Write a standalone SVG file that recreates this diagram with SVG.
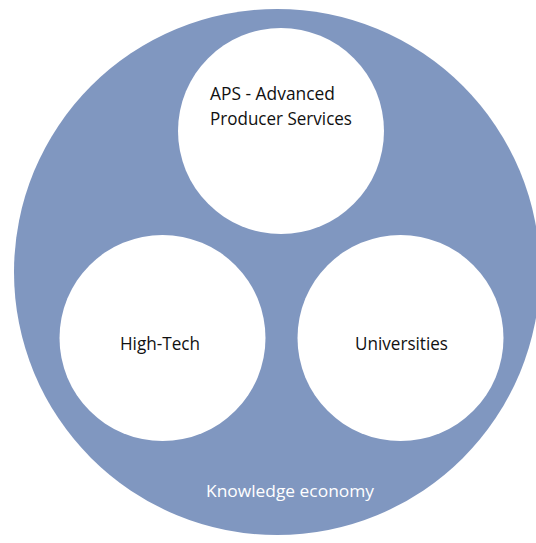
<svg xmlns="http://www.w3.org/2000/svg" width="536" height="543" viewBox="0 0 536 543">
<style>
.inner{fill:#ffffff}
.lbl{font-family:"Open Sans","Liberation Sans",sans-serif;font-size:17.5px;fill:#111111}
.outer-lbl{font-family:"Open Sans","Liberation Sans",sans-serif;font-size:16.5px;fill:#ffffff}
</style>
<rect width="536" height="543" fill="#ffffff"/>
<g id="knowledge-economy">
<circle cx="277" cy="272" r="263" fill="#8097c0"/>
<text class="outer-lbl" x="206" y="497" textLength="168" lengthAdjust="spacingAndGlyphs">Knowledge economy</text>
</g>
<g id="aps">
<circle class="inner" cx="281" cy="131" r="103"/>
<text class="lbl" x="210" y="99.5" textLength="125" lengthAdjust="spacingAndGlyphs">APS - Advanced</text>
<text class="lbl" x="210" y="125" textLength="142" lengthAdjust="spacingAndGlyphs">Producer Services</text>
</g>
<g id="high-tech">
<circle class="inner" cx="162.5" cy="338" r="103"/>
<text class="lbl" x="120" y="349.5" textLength="80" lengthAdjust="spacingAndGlyphs">High-Tech</text>
</g>
<g id="universities">
<circle class="inner" cx="400.5" cy="338" r="103"/>
<text class="lbl" x="355" y="349.5" textLength="93" lengthAdjust="spacingAndGlyphs">Universities</text>
</g>
<g id="connectors"></g>
</svg>
